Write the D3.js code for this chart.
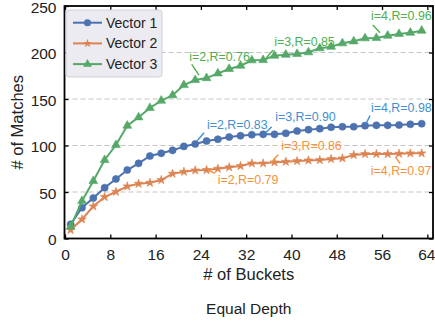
<!DOCTYPE html>
<html><head><meta charset="utf-8">
<script src="https://cdn.jsdelivr.net/npm/d3@7"></script>
<style>
html,body{margin:0;padding:0;background:#fff;}
text{font-family:"Liberation Sans","DejaVu Sans",sans-serif;fill:#222;}
</style></head>
<body><svg id="c" width="435" height="323"></svg>
<script>
// ---- data ----
const buckets = [1,3,5,7,9,11,13,15,17,19,21,23,25,27,29,31,33,35,37,39,41,43,45,47,49,51,53,55,57,59,61,63];
const vector1 = [15.3,33.1,43.5,54.6,64,73.6,80.8,88.7,91.6,94.8,99,101.6,104.8,106.7,109.1,110.5,111.6,112,112,113.1,115.6,117,118.1,119.6,120.2,120.2,121.3,121.7,121.7,122,122.8,123.4];
const vector2 = [9.1,20.6,34.6,44.6,50.3,56.1,58.9,60,62.9,69.7,71.8,73.3,73.7,75.1,76.6,78,80.8,80.8,81.9,82.6,83.3,84,84.4,85.5,86.2,89.8,90.9,90.9,90.9,91.2,91.6,91.6];
const vector3 = [12.7,40.3,61.8,84.4,100.5,121.3,130.3,140.3,148.2,154,165,170.4,172.5,177.5,182.3,185.8,191.6,191.9,196.6,197.6,198.4,200.2,204.5,206.2,209.9,212,215.3,215.6,218.1,219.9,221.3,223.4];
const seriesNames = ["Vector 1","Vector 2","Vector 3"];
const xTicks = [0,8,16,24,32,40,48,56,64];
const yTicks = [0,50,100,150,200,250];
const xLabel = "# of Buckets";
const yLabel = "# of Matches";
const title = "Equal Depth";
// annotations: series index, bucket of anchor point, label
const annSeries = [2,2,2,0,0,0,1,1,1];
const annBucket = [23,35,55,23,35,53,25,35,59];
const annLabel = ["i=2,R=0.76","i=3,R=0.85","i=4,R=0.96","i=2,R=0.83","i=3,R=0.90","i=4,R=0.98","i=2,R=0.79","i=3,R=0.86","i=4,R=0.97"];

// ---- layout/style ----
const annLayout = [ // [l1x,l1y,l2x,l2y,tx,ty] pixel offsets from anchor
 [-3.5,-15.7,3.8,-5,-6,-19],
 [3,-2,10,-10,11,-14],
 [-3.6,-13,3.7,-5.3,-5.3,-17.5],
 [2,-3.3,8.8,-11.3,11.8,-15.5],
 [2,-1,8.5,-7.5,12,-13.3],
 [1,-2.2,5,-10,6,-14],
 [1.8,0.7,8.5,3.3,11.2,13.8],
 [8,-1,15,-8.7,18,-13.4],
 [-3.9,3,1.1,9.8,-28.2,21.5]
];
const lineColors = ["#4c72b0","#dd8452","#55a868"];
const annColors = ["#3f8fd2","#f5923e","#4caf50"];
const symbols = [d3.symbolCircle, d3.symbolStar, d3.symbolTriangle];
const symSizes = [40, 24, 34];
const values = [vector1, vector2, vector3];

const svg = d3.select("#c");
const L=64.5, R=433, T=6, B=238.5;
const x = d3.scaleLinear().domain([0,65]).range([L+0.5,R]);
const y = d3.scaleLinear().domain([0,250]).range([B,T]);

// grid
svg.append("g").selectAll("line").data(yTicks.filter(t=>t>0&&t<250)).join("line")
  .attr("x1",L).attr("x2",R).attr("y1",d=>y(d)).attr("y2",d=>y(d))
  .attr("stroke","#c4c4c4").attr("stroke-width",1).attr("stroke-dasharray","5,3");

// axes with inward ticks
const fmt = d3.format("d");
const ax = svg.append("g").attr("transform",`translate(0,${B})`)
  .call(d3.axisBottom(x).tickValues(xTicks).tickSizeInner(-4).tickSizeOuter(0).tickPadding(10).tickFormat(fmt));
const ay = svg.append("g").attr("transform",`translate(${L},0)`)
  .call(d3.axisLeft(y).tickValues(yTicks).tickSizeInner(-4).tickSizeOuter(0).tickPadding(8).tickFormat(fmt));
const axT = svg.append("g").attr("transform",`translate(0,${T})`)
  .call(d3.axisTop(x).tickValues(xTicks).tickSizeInner(-4).tickSizeOuter(0).tickFormat(""));
const ayR = svg.append("g").attr("transform",`translate(${R},0)`)
  .call(d3.axisRight(y).tickValues(yTicks).tickSizeInner(-4).tickSizeOuter(0).tickFormat(""));
[ax,ay,axT,ayR].forEach(g=>{
  g.select(".domain").remove();
  g.selectAll(".tick line").attr("stroke","#000").attr("stroke-width",1.3);
  g.selectAll(".tick text").attr("font-size",15.5).attr("fill","#222")
   .style("font-family",'"Liberation Sans","DejaVu Sans",sans-serif');
});
ay.selectAll(".tick text").attr("dy","0.4em");
ax.selectAll(".tick text").filter(d=>d===64).attr("dx","-1");
// frame
svg.append("rect").attr("x",L).attr("y",T).attr("width",R-L).attr("height",B-T)
  .attr("fill","none").attr("stroke","#000").attr("stroke-width",1.8);

// series
const line = d3.line().x((d,i)=>x(buckets[i])).y(d=>y(d));
values.forEach((vals,s)=>{
  const g = svg.append("g");
  g.append("path").datum(vals).attr("d",line).attr("fill","none")
    .attr("stroke",lineColors[s]).attr("stroke-width",2);
  g.selectAll("path.m").data(vals).join("path").attr("class","m")
    .attr("transform",(d,i)=>`translate(${x(buckets[i])},${y(d)})`)
    .attr("d",d3.symbol().type(symbols[s]).size(symSizes[s]))
    .attr("fill",lineColors[s]).attr("stroke",lineColors[s]).attr("stroke-width",0.6);
});

// annotations
annLabel.forEach((lab,k)=>{
  const s = annSeries[k];
  const i = buckets.indexOf(annBucket[k]);
  const px = x(buckets[i]), py = y(values[s][i]);
  const o = annLayout[k];
  svg.append("line").attr("x1",px+o[0]).attr("y1",py+o[1]).attr("x2",px+o[2]).attr("y2",py+o[3])
    .attr("stroke",annColors[s]).attr("stroke-width",1.4);
  svg.append("text").attr("x",px+o[4]).attr("y",py+o[5]).attr("font-size",12.4)
    .style("fill",annColors[s]).text(lab);
});

// legend
const lg = svg.append("g");
lg.append("rect").attr("x",66).attr("y",10).attr("width",96).attr("height",67).attr("rx",3)
  .attr("fill","#ebebf1").attr("stroke","#d0d0d8").attr("stroke-width",1);
seriesNames.forEach((n,s)=>{
  const cy = 22.7 + s*20.7;
  lg.append("line").attr("x1",73).attr("x2",102).attr("y1",cy).attr("y2",cy)
    .attr("stroke",lineColors[s]).attr("stroke-width",2);
  lg.append("path").attr("transform",`translate(87.5,${cy})`)
    .attr("d",d3.symbol().type(symbols[s]).size(symSizes[s])).attr("fill",lineColors[s]);
  lg.append("text").attr("x",106).attr("y",cy+5).attr("font-size",14).text(n);
});

// labels
svg.append("text").attr("x",(L+R)/2).attr("y",280).attr("text-anchor","middle")
  .attr("font-size",16.5).text(xLabel);
svg.append("text").attr("transform",`translate(23,${(T+B)/2}) rotate(-90)`)
  .attr("text-anchor","middle").attr("font-size",16.5).text(yLabel);
svg.append("text").attr("x",(L+R)/2).attr("y",314).attr("text-anchor","middle")
  .attr("font-size",15.5).text(title);
</script></body></html>
